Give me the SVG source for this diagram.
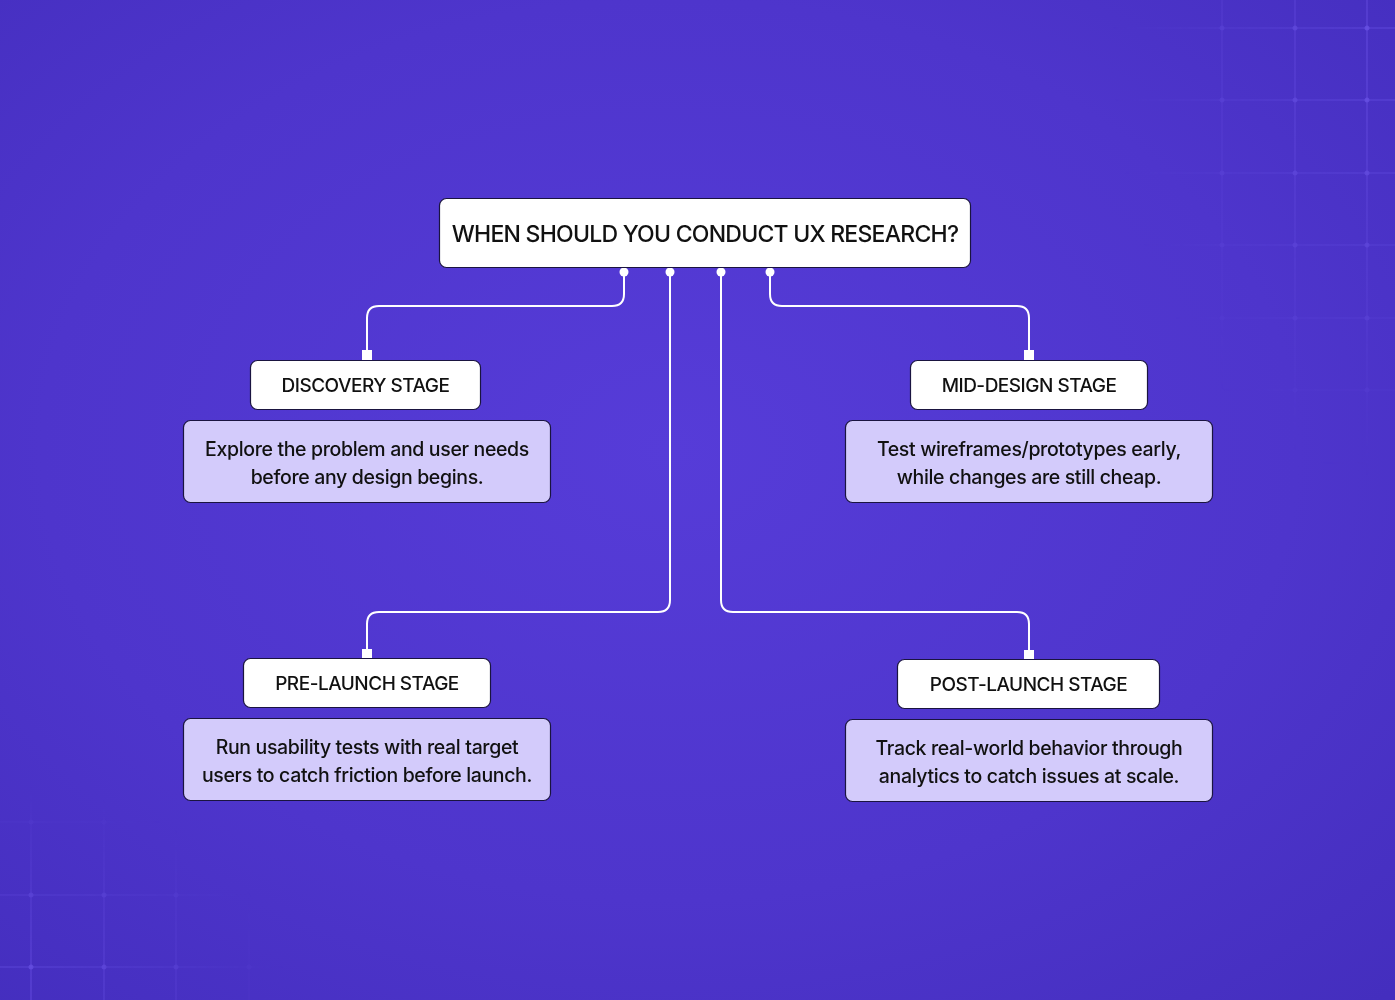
<svg xmlns="http://www.w3.org/2000/svg" width="1395" height="1000" viewBox="0 0 1395 1000">
<defs>
<radialGradient id="bg" cx="0.48" cy="0.45" r="0.75">
<stop offset="0" stop-color="#563CD8"/>
<stop offset="0.6" stop-color="#4E35CC"/>
<stop offset="1" stop-color="#442EBE"/>
</radialGradient>
<radialGradient id="fadeTR" cx="1" cy="0.1" r="0.9">
<stop offset="0" stop-color="#fff" stop-opacity="1"/>
<stop offset="1" stop-color="#fff" stop-opacity="0"/>
</radialGradient>
<radialGradient id="fadeBL" cx="0" cy="1" r="0.9">
<stop offset="0" stop-color="#fff" stop-opacity="1"/>
<stop offset="1" stop-color="#fff" stop-opacity="0"/>
</radialGradient>
<mask id="mTR"><rect x="1080" y="0" width="315" height="480" fill="url(#fadeTR)"/></mask>
<mask id="mBL"><rect x="0" y="760" width="320" height="240" fill="url(#fadeBL)"/></mask>
<style>
.grid line{stroke:#6F58EA;stroke-width:1.2;opacity:0.65}
.grid circle{fill:#6F58EA;opacity:0.7}
.head{fill:#fff;stroke:#1a1440;stroke-width:1.2}
.desc{fill:#D3CBFB;stroke:#1a1440;stroke-width:1.2}
.t{font-family:Inter,"Liberation Sans",sans-serif;font-weight:500;fill:#111;text-anchor:middle}
.ht{font-size:19px;letter-spacing:-0.5px}
.dt{font-size:19.5px;letter-spacing:-0.35px}
.conn path{fill:none;stroke:#fff;stroke-width:2}
.conn circle{fill:#fff}
.conn rect{fill:#fff}
</style>
</defs>
<rect width="1395" height="1000" fill="url(#bg)"/>
<g class="grid" mask="url(#mTR)">
<line x1="1222" y1="0" x2="1222" y2="480"/>
<line x1="1295" y1="0" x2="1295" y2="480"/>
<line x1="1367" y1="0" x2="1367" y2="480"/>
<line x1="1080" y1="28" x2="1395" y2="28"/>
<line x1="1080" y1="100" x2="1395" y2="100"/>
<line x1="1080" y1="173" x2="1395" y2="173"/>
<line x1="1080" y1="245" x2="1395" y2="245"/>
<line x1="1080" y1="318" x2="1395" y2="318"/>
<line x1="1080" y1="390" x2="1395" y2="390"/>
<line x1="1080" y1="463" x2="1395" y2="463"/>
<circle cx="1222" cy="28" r="2.5"/><circle cx="1295" cy="28" r="2.5"/><circle cx="1367" cy="28" r="2.5"/>
<circle cx="1222" cy="100" r="2.5"/><circle cx="1295" cy="100" r="2.5"/><circle cx="1367" cy="100" r="2.5"/>
<circle cx="1222" cy="173" r="2.5"/><circle cx="1295" cy="173" r="2.5"/><circle cx="1367" cy="173" r="2.5"/>
<circle cx="1222" cy="245" r="2.5"/><circle cx="1295" cy="245" r="2.5"/><circle cx="1367" cy="245" r="2.5"/>
<circle cx="1222" cy="318" r="2.5"/><circle cx="1295" cy="318" r="2.5"/><circle cx="1367" cy="318" r="2.5"/>
<circle cx="1222" cy="390" r="2.5"/><circle cx="1295" cy="390" r="2.5"/><circle cx="1367" cy="390" r="2.5"/>
</g>
<g class="grid" mask="url(#mBL)">
<line x1="31" y1="760" x2="31" y2="1000"/>
<line x1="104" y1="760" x2="104" y2="1000"/>
<line x1="176" y1="760" x2="176" y2="1000"/>
<line x1="249" y1="760" x2="249" y2="1000"/>
<line x1="0" y1="822" x2="320" y2="822"/>
<line x1="0" y1="895" x2="320" y2="895"/>
<line x1="0" y1="967" x2="320" y2="967"/>
<circle cx="31" cy="822" r="2.5"/><circle cx="104" cy="822" r="2.5"/><circle cx="176" cy="822" r="2.5"/><circle cx="249" cy="822" r="2.5"/>
<circle cx="31" cy="895" r="2.5"/><circle cx="104" cy="895" r="2.5"/><circle cx="176" cy="895" r="2.5"/><circle cx="249" cy="895" r="2.5"/>
<circle cx="31" cy="967" r="2.5"/><circle cx="104" cy="967" r="2.5"/><circle cx="176" cy="967" r="2.5"/><circle cx="249" cy="967" r="2.5"/>
</g>
<g id="connectors" class="conn">
<path d="M624 272 V294 Q624 306 612 306 H379 Q367 306 367 318 V352"/>
<path d="M670 272 V600 Q670 612 658 612 H379 Q367 612 367 624 V651"/>
<path d="M721 272 V600 Q721 612 733 612 H1017 Q1029 612 1029 624 V652"/>
<path d="M770 272 V294 Q770 306 782 306 H1017 Q1029 306 1029 318 V352"/>
<circle cx="624" cy="272" r="4.5"/><circle cx="670" cy="272" r="4.5"/><circle cx="721" cy="272" r="4.5"/><circle cx="770" cy="272" r="4.5"/>
<rect x="362" y="350" width="10" height="10"/>
<rect x="1024" y="350" width="10" height="10"/>
<rect x="362" y="649" width="10" height="10"/>
<rect x="1024" y="650" width="10" height="10"/>
</g>
<g id="title">
<rect class="head" x="439.5" y="198.5" width="531" height="69" rx="7"/>
<text class="t" x="705" y="242" font-size="23" letter-spacing="-0.75">WHEN SHOULD YOU CONDUCT UX RESEARCH?</text>
</g>
<g id="discovery">
<rect class="head" x="250.5" y="360.5" width="230" height="49" rx="7"/>
<text class="t ht" x="365.5" y="392">DISCOVERY STAGE</text>
</g>
<g id="discovery-desc">
<rect class="desc" x="183.5" y="420.5" width="367" height="82" rx="7"/>
<text class="t dt" x="367" y="456">Explore the problem and user needs</text>
<text class="t dt" x="367" y="484">before any design begins.</text>
</g>
<g id="middesign">
<rect class="head" x="910.5" y="360.5" width="237" height="49" rx="7"/>
<text class="t ht" x="1029" y="392">MID-DESIGN STAGE</text>
</g>
<g id="middesign-desc">
<rect class="desc" x="845.5" y="420.5" width="367" height="82" rx="7"/>
<text class="t dt" x="1029" y="456">Test wireframes/prototypes early,</text>
<text class="t dt" x="1029" y="484">while changes are still cheap.</text>
</g>
<g id="prelaunch">
<rect class="head" x="243.5" y="658.5" width="247" height="49" rx="7"/>
<text class="t ht" x="367" y="690">PRE-LAUNCH STAGE</text>
</g>
<g id="prelaunch-desc">
<rect class="desc" x="183.5" y="718.5" width="367" height="82" rx="7"/>
<text class="t dt" x="367" y="754">Run usability tests with real target</text>
<text class="t dt" x="367" y="782">users to catch friction before launch.</text>
</g>
<g id="postlaunch">
<rect class="head" x="897.5" y="659.5" width="262" height="49" rx="7"/>
<text class="t ht" x="1028.5" y="691">POST-LAUNCH STAGE</text>
</g>
<g id="postlaunch-desc">
<rect class="desc" x="845.5" y="719.5" width="367" height="82" rx="7"/>
<text class="t dt" x="1029" y="755">Track real-world behavior through</text>
<text class="t dt" x="1029" y="783">analytics to catch issues at scale.</text>
</g>
</svg>
